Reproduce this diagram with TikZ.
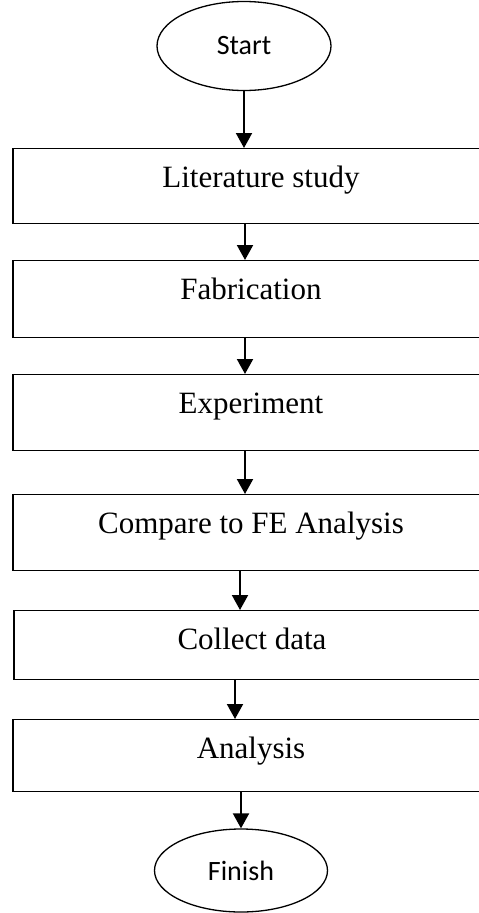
\documentclass[tikz,border=0pt]{standalone}
\usepackage{fontspec}
\setmainfont{Liberation Serif}
\newfontfamily\flowsans{Carlito}
\usetikzlibrary{arrows.meta,shapes.geometric}
\begin{document}
\begin{tikzpicture}[x=1pt,y=-1pt,
  stepbox/.style={draw, line width=1.3pt, minimum width=476pt, inner xsep=0pt,
    inner ysep=0pt, anchor=north, text height=39pt,
    font=\fontsize{31}{37}\selectfont},
  term/.style={draw, ellipse, line width=1.3pt, inner sep=0pt,
    font=\flowsans\fontsize{28}{34}\selectfont},
  flow/.style={line width=2pt, -{Triangle[width=16pt,length=15pt]}}]
  \useasboundingbox (0,0) rectangle (479,913);
  \clip (0,0) rectangle (479,913);

  % terminals
  \node[term, minimum width=174pt, minimum height=89pt] (start) at (244,46) {Start};
  \node[term, minimum width=173pt, minimum height=83pt] (fin) at (241,870.5) {Finish};

  % process steps
  \node[stepbox, minimum width=496pt, text depth=36pt] (lit) at (261,148) {Literature study};
  \node[stepbox, text depth=38pt] (fab) at (251,260) {Fabrication};
  \node[stepbox, text depth=37pt] (exp) at (251,374) {Experiment};
  \node[stepbox, text depth=37pt] (cmp) at (251,494) {Compare to FE Analysis};
  \node[stepbox, text depth=30pt] (col) at (252,610) {Collect data};
  \node[stepbox, text depth=33pt] (ana) at (251,719) {Analysis};

  % connectors
  \draw[flow] (start.south) -- (start.south |- lit.north);
  \draw[flow] ([xshift=-16pt]lit.south) -- ([xshift=-6pt]fab.north);
  \draw[flow] ([xshift=-6pt]fab.south) -- ([xshift=-6pt]exp.north);
  \draw[flow] ([xshift=-6pt]exp.south) -- ([xshift=-6pt]cmp.north);
  \draw[flow] ([xshift=-11pt]cmp.south) -- ([xshift=-12pt]col.north);
  \draw[flow] ([xshift=-17pt]col.south) -- ([xshift=-16pt]ana.north);
  \draw[flow] ([xshift=-10pt]ana.south) -- (fin.north);
\end{tikzpicture}
\end{document}
